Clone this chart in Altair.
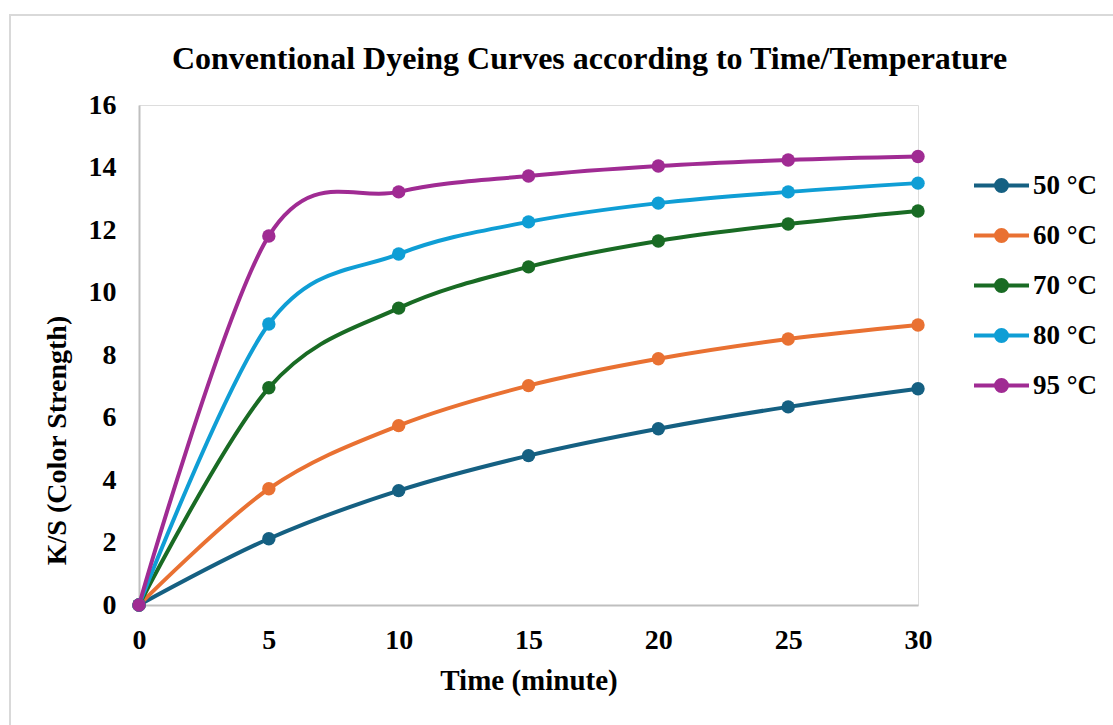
import altair as alt
import pandas as pd

time_min = [0, 5, 10, 15, 20, 25, 30]
series_names = ["50 °C", "60 °C", "70 °C", "80 °C", "95 °C"]
ks_50 = [0, 2.12, 3.66, 4.78, 5.64, 6.34, 6.92]
ks_60 = [0, 3.72, 5.74, 7.02, 7.88, 8.51, 8.96]
ks_70 = [0, 6.95, 9.50, 10.82, 11.65, 12.19, 12.61]
ks_80 = [0, 8.99, 11.23, 12.26, 12.86, 13.22, 13.50]
ks_95 = [0, 11.81, 13.22, 13.73, 14.05, 14.24, 14.35]
colors = ["#156082", "#E97132", "#196B24", "#0F9ED5", "#A02B93"]

rows = []
for i, (name, vals) in enumerate(zip(series_names, [ks_50, ks_60, ks_70, ks_80, ks_95])):
    for t, v in zip(time_min, vals):
        rows.append({"Time": t, "KS": v, "Series": name, "order": i})
df = pd.DataFrame(rows)

FONT = "Liberation Serif"

color_scale = alt.Scale(domain=series_names, range=colors)

legend_symbol = ("M-1,0L1,0 M-0.2,0A0.2,0.2 0 1,1 0.2,0A0.2,0.2 0 1,1 -0.2,0Z")

x_enc = alt.X("Time:Q", title="Time (minute)",
              scale=alt.Scale(domain=[0, 30], nice=False, zero=False),
              axis=alt.Axis(values=time_min, grid=False, ticks=False, labelFlush=False,
                            domainColor="#BFBFBF", domainWidth=2,
                            labelFont=FONT, labelFontSize=28, labelFontWeight="bold",
                            labelColor="black", labelPadding=21,
                            titleFont=FONT, titleFontSize=29, titleFontWeight="bold",
                            titleColor="black", titlePadding=12))
y_enc = alt.Y("KS:Q", title="K/S (Color Strength)",
              scale=alt.Scale(domain=[0, 16], nice=False),
              axis=alt.Axis(values=[0, 2, 4, 6, 8, 10, 12, 14, 16], grid=False, ticks=False,
                            labelFlush=False,
                            domainColor="#BFBFBF", domainWidth=2,
                            labelFont=FONT, labelFontSize=28, labelFontWeight="bold",
                            labelColor="black", labelPadding=23,
                            titleFont=FONT, titleFontSize=28, titleFontWeight="bold",
                            titleColor="black", titleX=-82, titleY=335,
                            titleAngle=270, titleBaseline="middle", titleAlign="center"))

color_enc = alt.Color("Series:N", scale=color_scale, sort=series_names,
                      legend=alt.Legend(title=None, orient="none", legendX=833, legendY=51,
                                        symbolType=legend_symbol, symbolSize=3025,
                                        symbolStrokeWidth=4, rowPadding=7,
                                        labelFont=FONT, labelFontSize=27, labelFontWeight="bold",
                                        labelColor="black", labelOffset=2))

lines = alt.Chart(df).mark_line(interpolate="cardinal", strokeWidth=4).encode(
    x=x_enc, y=y_enc, color=color_enc, order="Time:Q", detail="Series:N")
points = alt.Chart(df).mark_circle(size=180, opacity=1).encode(
    x="Time:Q", y="KS:Q", color=alt.Color("Series:N", scale=color_scale, legend=None),
    order="order:Q")

border = alt.Chart(pd.DataFrame({"a": [0]})).mark_rect(
    fill=None, stroke="#D9D9D9", strokeWidth=2).encode(
    x=alt.value(-129), x2=alt.value(1000), y=alt.value(-90), y2=alt.value(700))

chart = alt.layer(border, lines, points).properties(
    width=779, height=500,
    title=alt.TitleParams("Conventional Dyeing Curves according to Time/Temperature",
                          font=FONT, fontSize=32, fontWeight="bold", color="black",
                          anchor="middle", frame="group", dx=61, offset=-62),
    padding={"left": 139, "top": 105, "right": 195, "bottom": 120},
    autosize=alt.AutoSizeParams(type="none"),
).configure_view(stroke=None).configure(background="white")

chart.save("out.html", embed_options={"renderer": "svg", "actions": False})
